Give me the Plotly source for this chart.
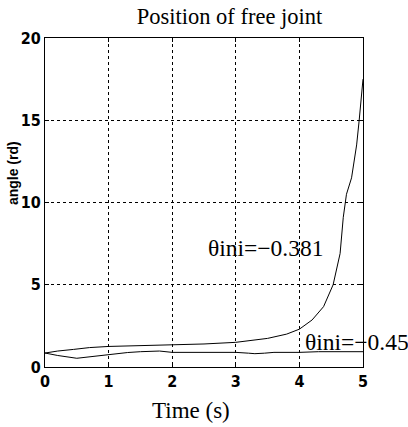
import plotly.graph_objects as go

# Joint angle trajectories for two initial angles
t_a = [0, 0.2, 0.45, 0.7, 1.0, 1.5, 2.0, 2.5, 3.0, 3.5, 3.8, 4.0, 4.2, 4.38,
       4.53, 4.64, 4.69, 4.74, 4.82, 4.9, 4.94, 5.0]
angle_a = [0.85, 0.97, 1.07, 1.18, 1.25, 1.3, 1.34, 1.4, 1.5, 1.74, 2.0, 2.3,
           2.86, 3.67, 5.0, 6.9, 9.1, 10.5, 11.5, 13.5, 15.0, 17.5]

t_b = [0, 0.2, 0.5, 0.8, 1.0, 1.3, 1.5, 1.8, 2.0, 2.5, 3.0, 3.2, 3.3, 3.45,
       3.6, 4.0, 4.3, 5.0]
angle_b = [0.85, 0.7, 0.53, 0.66, 0.79, 0.88, 0.93, 0.97, 0.89, 0.89, 0.89,
           0.84, 0.81, 0.84, 0.89, 0.89, 0.93, 0.93]

label_a = "θini=−0.381"
label_b = "θini=−0.45"
x_ticks = [0, 1, 2, 3, 4, 5]
y_ticks = [0, 5, 10, 15, 20]

serif = "Liberation Serif, Times New Roman, serif"
narrow = "DejaVu Sans Condensed, Liberation Sans Narrow, Arial Narrow, Liberation Sans, sans-serif"

fig = go.Figure()
for tx, ay in ((t_a, angle_a), (t_b, angle_b)):
    fig.add_trace(go.Scatter(x=tx, y=ay, mode="lines",
                             line=dict(color="black", width=1),
                             showlegend=False, hoverinfo="skip"))

axis_common = dict(
    showline=True, linecolor="black", linewidth=1, mirror="ticks",
    ticks="inside", ticklen=4, tickcolor="black",
    showgrid=True, gridcolor="black", griddash="dot", gridwidth=1,
    zeroline=False,
    tickfont=dict(family=narrow, size=16, color="black", weight="bold"),
)

fig.update_xaxes(range=[0, 5], tickvals=x_ticks, **axis_common)
fig.update_yaxes(range=[0, 20], tickvals=y_ticks, **axis_common)

fig.add_annotation(x=3.46, y=7.23, text=label_a, showarrow=False,
                   font=dict(family=serif, size=23.5, color="black"))
fig.add_annotation(x=4.05, y=1.52, text=label_b, showarrow=False,
                   xanchor="left",
                   font=dict(family=serif, size=23.5, color="black"))

fig.update_layout(
    width=408, height=427,
    margin=dict(l=45, r=45, t=38, b=60),
    paper_bgcolor="white", plot_bgcolor="white",
    title=dict(text="Position of free joint", x=0.5625, xanchor="center",
               y=0.963, yanchor="middle",
               font=dict(family=serif, size=22.5, color="black")),
    annotations=list(fig.layout.annotations) + [
        dict(text="Time (s)", xref="paper", yref="paper", x=0.459, y=-0.131,
             xanchor="center", yanchor="middle", showarrow=False,
             font=dict(family=serif, size=23, color="black")),
        dict(text="angle (rd)", xref="paper", yref="paper", x=-0.1, y=0.59,
             xanchor="center", yanchor="middle", textangle=-90,
             showarrow=False,
             font=dict(family="Liberation Sans, Arial, sans-serif", size=14,
                       color="black", weight="bold")),
    ],
)

fig.write_html("out.html")
